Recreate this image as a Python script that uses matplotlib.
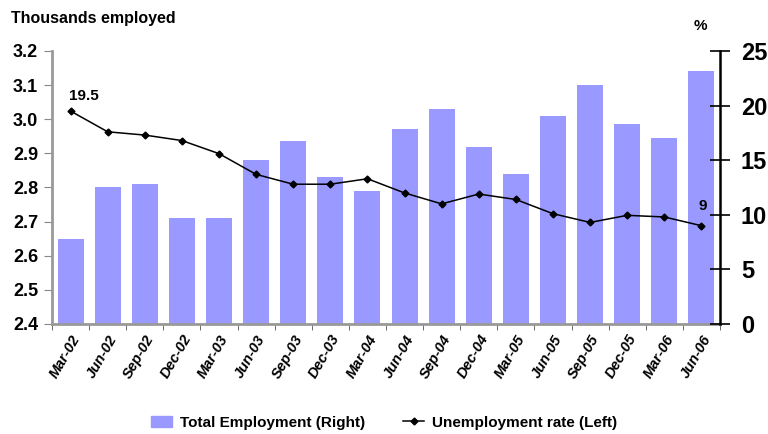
import numpy as np
import matplotlib
matplotlib.use("Agg")
import matplotlib.pyplot as plt
from matplotlib.lines import Line2D
from matplotlib.patches import Patch

plt.rcParams["font.family"] = ["Liberation Sans Narrow", "Liberation Sans", "DejaVu Sans"]
plt.rcParams["font.weight"] = "bold"

quarters = ["Mar-02", "Jun-02", "Sep-02", "Dec-02", "Mar-03", "Jun-03", "Sep-03", "Dec-03",
            "Mar-04", "Jun-04", "Sep-04", "Dec-04", "Mar-05", "Jun-05", "Sep-05", "Dec-05",
            "Mar-06", "Jun-06"]
employment = [2.65, 2.80, 2.81, 2.71, 2.71, 2.88, 2.935, 2.83, 2.79, 2.97, 3.03, 2.92,
              2.84, 3.01, 3.10, 2.985, 2.945, 3.14]
unemployment = [19.5, 17.6, 17.3, 16.8, 15.6, 13.7, 12.8, 12.8, 13.3, 12.0, 11.0, 11.9,
                11.4, 10.1, 9.3, 9.95, 9.8, 9.0]

BAR = "#9999ff"
x = np.arange(len(quarters))

fig = plt.figure(figsize=(7.68, 4.34), dpi=100)
ax = fig.add_axes([0.0677, 0.2535, 0.8698, 0.629])
ax.bar(x, np.array(employment) - 2.4, bottom=2.4, width=0.70, color=BAR, zorder=2)
ax.set_ylim(2.4, 3.2)
ax.set_xlim(-0.5, len(quarters) - 0.5)
ax.set_yticks(np.arange(2.4, 3.21, 0.1))
ax.set_yticklabels(["%.1f" % v for v in np.arange(2.4, 3.21, 0.1)], fontsize=13)
ax.set_xticks(x)
ax.set_xticklabels(quarters, rotation=60, ha="right", rotation_mode="anchor",
                   fontsize=10.5, style="italic")
ax.tick_params(axis="x", length=0, pad=6)
ax.set_xticks(np.arange(-0.5, len(quarters)), minor=True)
ax.tick_params(axis="x", which="minor", length=4, color="#555555", direction="out")
ax.tick_params(axis="y", length=6, color="#888888", direction="out", pad=4)
for s in ("top", "right"):
    ax.spines[s].set_visible(False)
ax.spines["left"].set_color("#999999")
ax.spines["left"].set_linewidth(2)
ax.spines["bottom"].set_color("#999999")
ax.spines["bottom"].set_linewidth(2)

ax2 = ax.twinx()
ax2.plot(x, unemployment, "-", color="black", lw=1.1, marker="D", ms=3.5, zorder=3)
ax2.set_ylim(0, 25)
ax2.set_yticks(range(0, 26, 5))
ax2.tick_params(axis="y", labelsize=17, length=14, width=1.2, direction="inout", pad=8)
for s in ("top", "left", "bottom"):
    ax2.spines[s].set_visible(False)
ax2.spines["right"].set_linewidth(1.8)

ax2.annotate("19.5", (x[0], unemployment[0]), xytext=(-1, 6), textcoords="offset points",
             ha="left", va="bottom", fontsize=11)
ax2.annotate("9", (x[-1], unemployment[-1]), xytext=(1, 9), textcoords="offset points",
             ha="center", va="bottom", fontsize=11)

fig.text(0.014, 0.958, "Thousands employed", fontsize=11.5, ha="left", va="center")
fig.text(0.912, 0.94, "%", fontsize=11, ha="center", va="center")

handles = [Patch(color=BAR),
           Line2D([], [], color="black", marker="D", ms=3.5, lw=1.1)]
fig.legend(handles, ["Total Employment (Right)", "Unemployment rate (Left)"],
           loc="center", bbox_to_anchor=(0.5, 0.026), ncol=2, frameon=False,
           fontsize=11, handlelength=1.4, handletextpad=0.5, columnspacing=2.5)

fig.savefig("out.png", dpi=100)
